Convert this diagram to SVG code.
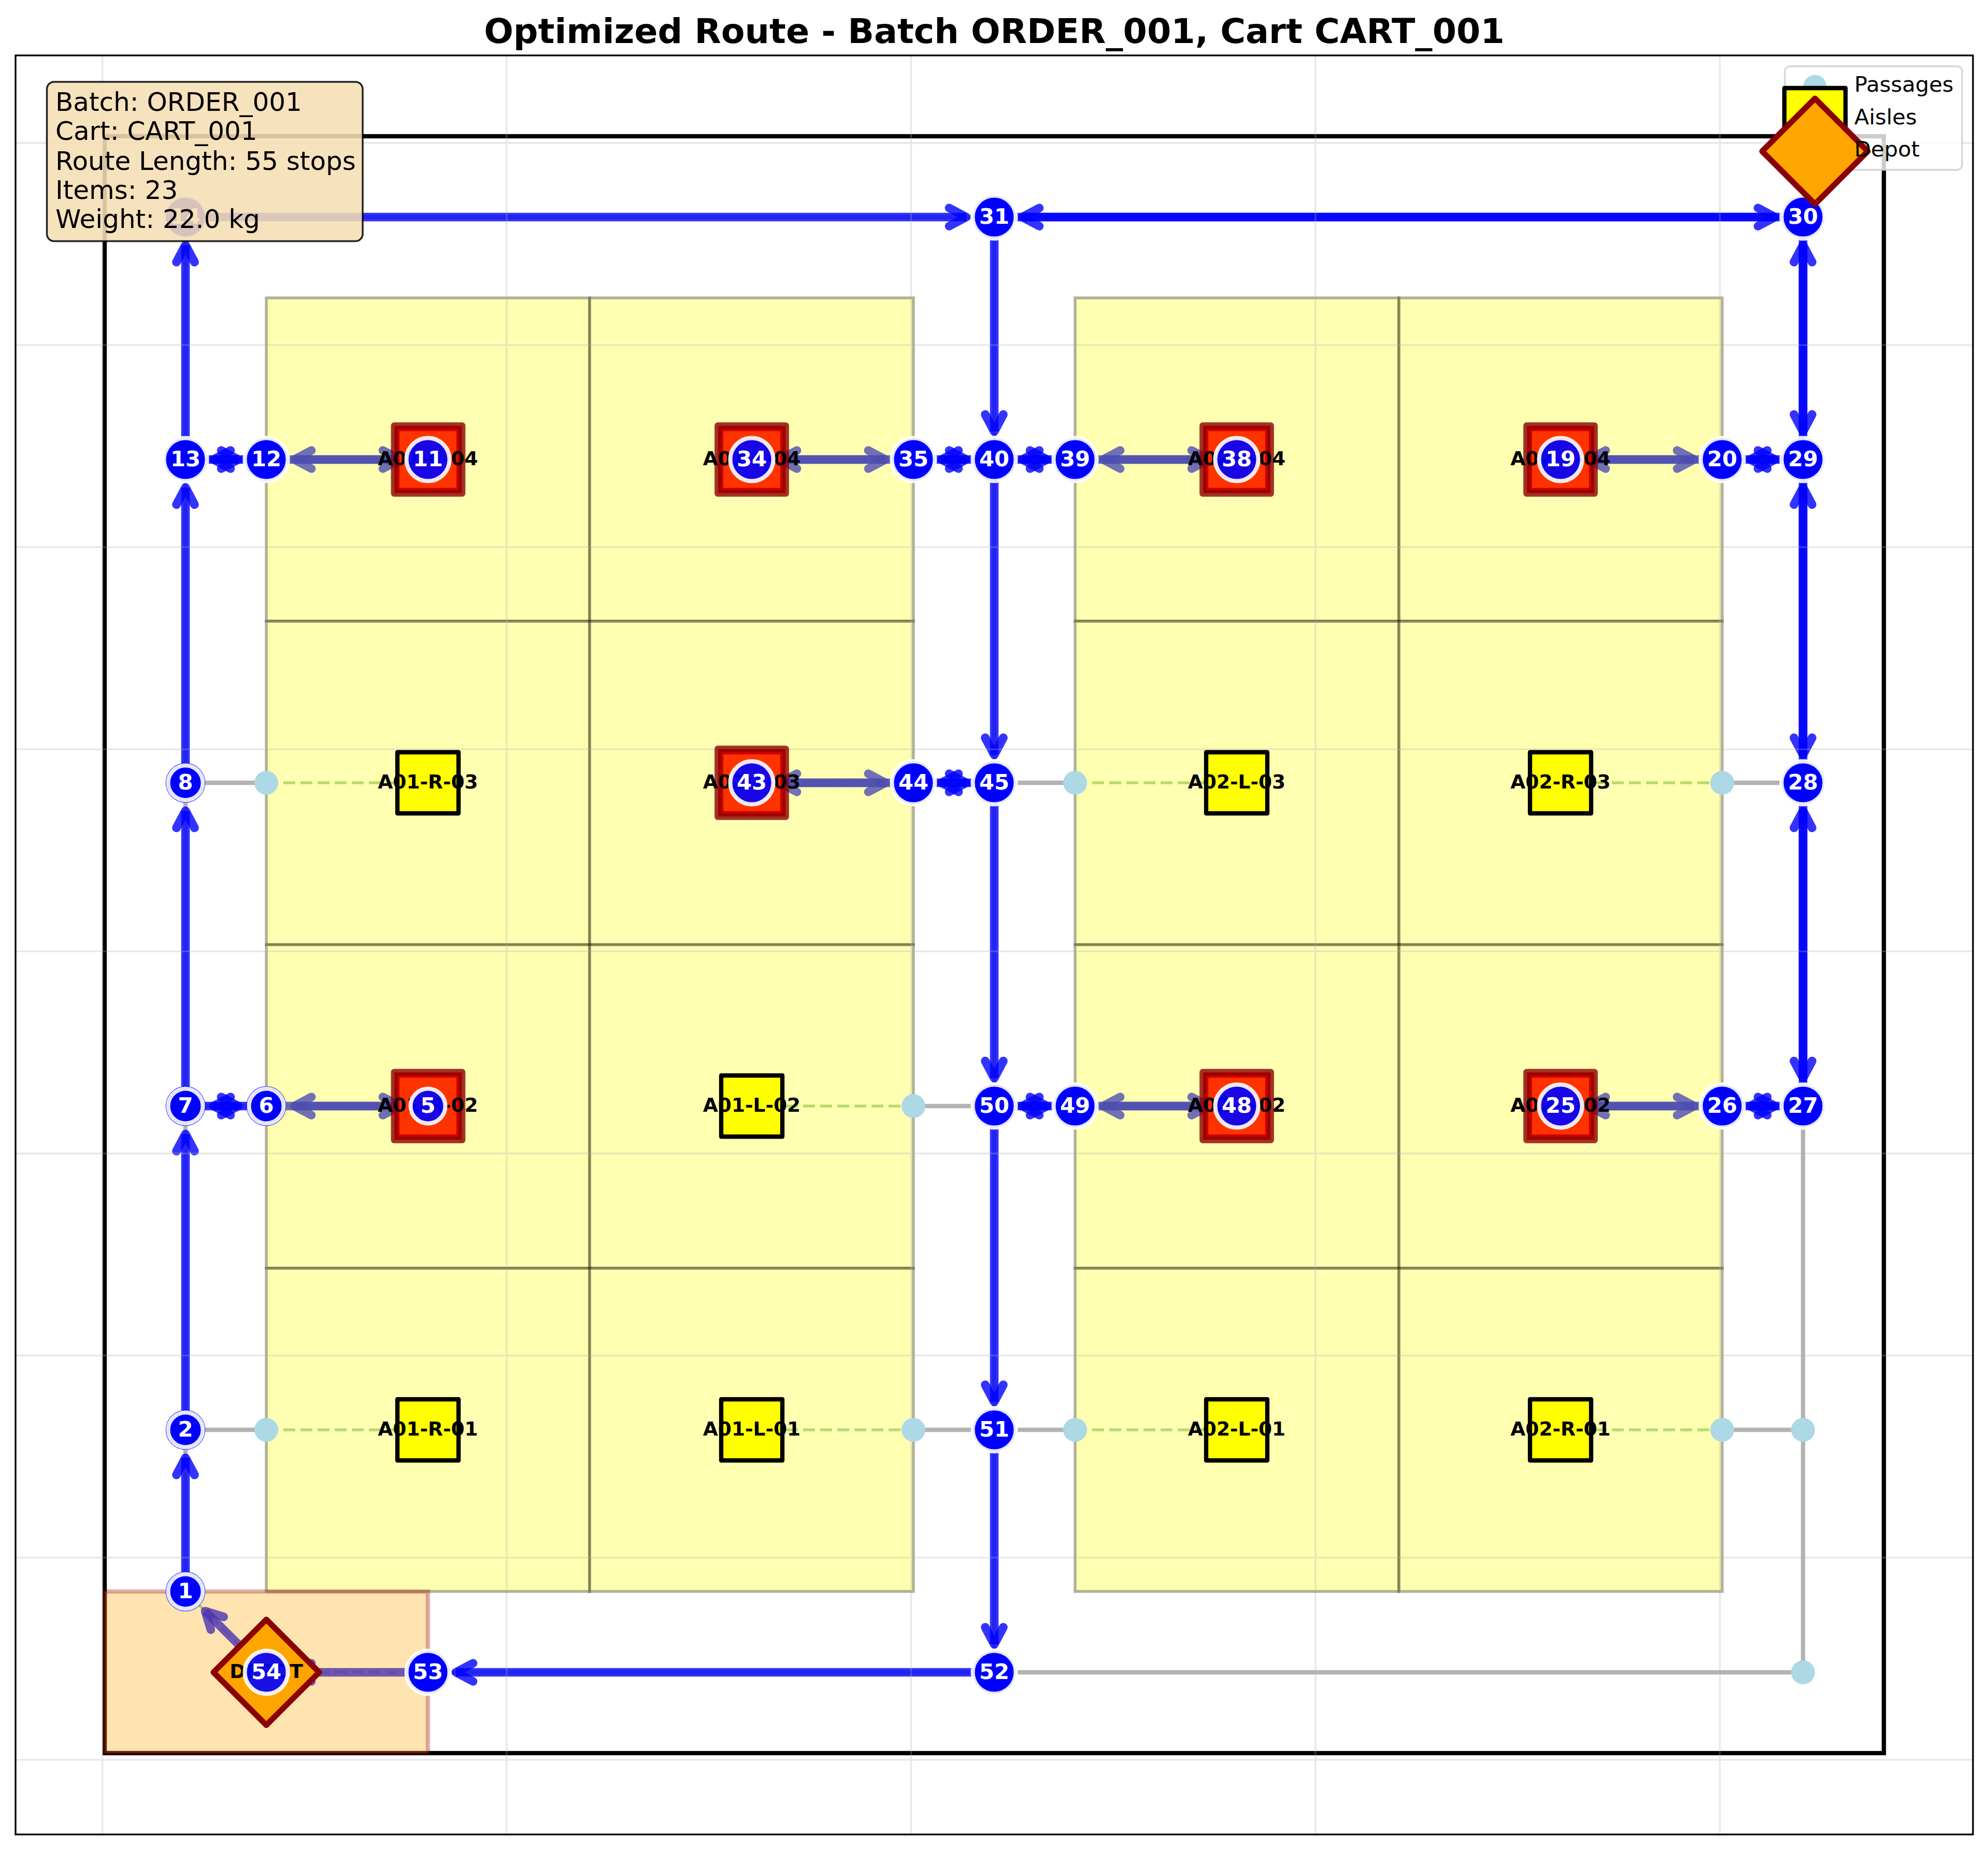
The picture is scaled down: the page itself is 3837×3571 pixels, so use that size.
<svg xmlns="http://www.w3.org/2000/svg" width="3837" height="3571" viewBox="0 0 3837 3571">
<style>
text{font-family:"DejaVu Sans","Liberation Sans",sans-serif}
.gray{stroke:#808080;stroke-opacity:.6;stroke-width:8.3;fill:none}
.dash{stroke:#008000;stroke-opacity:.4;stroke-width:5.5;stroke-dasharray:23 10;fill:none}
.arrow{stroke:#0000ff;stroke-opacity:.8;stroke-width:16.6;fill:none;marker-end:url(#head)}
.cell{fill:#ffff00;fill-opacity:.3;stroke:#000;stroke-opacity:.3;stroke-width:5.5}
.grid{stroke:#b0b0b0;stroke-opacity:.3;stroke-width:3.3;fill:none}
.dot{fill:#add8e6}
.sq{fill:#ffff00;stroke:#000;stroke-width:8.3;stroke-linejoin:round}
.hit{fill:#ff0000;fill-opacity:.8;stroke:#8b0000;stroke-opacity:.8;stroke-width:12.7;stroke-linejoin:round}
.lab{font-size:37.5px;font-weight:700;fill:#000;text-anchor:middle}
.und{fill:#0000ff}
.nd{fill:#0000ff;stroke:#fff;stroke-opacity:.9;stroke-width:8}
.ndi{fill:#0000ff;fill-opacity:.9;stroke:#fff;stroke-opacity:.9;stroke-width:8}
.num{font-size:41.67px;font-weight:700;fill:#fff;text-anchor:middle}
.dia{fill:#ffa500;stroke:#8b0000;stroke-width:11;stroke-linejoin:round}
.info{font-size:50px;fill:#000}
.leg{font-size:41.67px;fill:#000}
</style>
<defs>
<marker id="head" markerUnits="userSpaceOnUse" markerWidth="1" markerHeight="1" refX="0" refY="0" orient="auto" overflow="visible">
<path d="M-33,-17.5L0,0L-33,17.5" fill="none" stroke="#0000ff" stroke-opacity=".8" stroke-width="16.6" stroke-linecap="round" stroke-linejoin="round"/>
</marker>
</defs>
<rect width="3837" height="3571" fill="#fff"/>
<g id="connectors">
<g id="passage-edges">
<path class="gray" d="M358,419V3072M1919,419V3228M3480,419V3228M358,419H3480M826,3228H3480M358,887H514M358,1511H514M358,2135H514M358,2760H514M1763,887H2075M1763,1511H2075M1763,2135H2075M1763,2760H2075M3324,887H3480M3324,1511H3480M3324,2135H3480M3324,2760H3480"/>
</g>
<g id="aisle-links">
<path class="dash" d="M514,887H826M514,1511H826M514,2135H826M514,2760H826M1451,887H1763M1451,1511H1763M1451,2135H1763M1451,2760H1763M2075,887H2387M2075,1511H2387M2075,2135H2387M2075,2760H2387M3012,887H3324M3012,1511H3324M3012,2135H3324M3012,2760H3324M514,3228L358,3072M514,3228H826"/>
</g>
<g id="route">
<path class="arrow" d="M493,3207L396,3110"/>
<path class="arrow" d="M358,3042V2814"/>
<path class="arrow" d="M358,2730V2189"/>
<path class="arrow" d="M388,2135H460"/>
<path class="arrow" d="M544,2135H772"/>
<path class="arrow" d="M796,2135H568"/>
<path class="arrow" d="M484,2135H412"/>
<path class="arrow" d="M358,2105V1565"/>
<path class="arrow" d="M358,1481V941"/>
<path class="arrow" d="M388,887H460"/>
<path class="arrow" d="M544,887H772"/>
<path class="arrow" d="M796,887H568"/>
<path class="arrow" d="M484,887H412"/>
<path class="arrow" d="M358,857V473"/>
<path class="arrow" d="M388,419H1865"/>
<path class="arrow" d="M1949,419H3426"/>
<path class="arrow" d="M3480,449V833"/>
<path class="arrow" d="M3450,887H3378"/>
<path class="arrow" d="M3294,887H3066"/>
<path class="arrow" d="M3042,887H3270"/>
<path class="arrow" d="M3354,887H3426"/>
<path class="arrow" d="M3480,917V1457"/>
<path class="arrow" d="M3480,1541V2081"/>
<path class="arrow" d="M3450,2135H3378"/>
<path class="arrow" d="M3294,2135H3066"/>
<path class="arrow" d="M3042,2135H3270"/>
<path class="arrow" d="M3354,2135H3426"/>
<path class="arrow" d="M3480,2105V1565"/>
<path class="arrow" d="M3480,1481V941"/>
<path class="arrow" d="M3480,857V473"/>
<path class="arrow" d="M3450,419H1973"/>
<path class="arrow" d="M1919,449V833"/>
<path class="arrow" d="M1889,887H1817"/>
<path class="arrow" d="M1733,887H1505"/>
<path class="arrow" d="M1481,887H1709"/>
<path class="arrow" d="M1793,887H1865"/>
<path class="arrow" d="M1949,887H2021"/>
<path class="arrow" d="M2105,887H2333"/>
<path class="arrow" d="M2357,887H2129"/>
<path class="arrow" d="M2045,887H1973"/>
<path class="arrow" d="M1919,917V1457"/>
<path class="arrow" d="M1889,1511H1817"/>
<path class="arrow" d="M1733,1511H1505"/>
<path class="arrow" d="M1481,1511H1709"/>
<path class="arrow" d="M1793,1511H1865"/>
<path class="arrow" d="M1919,1541V2081"/>
<path class="arrow" d="M1949,2135H2021"/>
<path class="arrow" d="M2105,2135H2333"/>
<path class="arrow" d="M2357,2135H2129"/>
<path class="arrow" d="M2045,2135H1973"/>
<path class="arrow" d="M1919,2165V2706"/>
<path class="arrow" d="M1919,2790V3174"/>
<path class="arrow" d="M1889,3228H880"/>
<path class="arrow" d="M796,3228H568"/>
</g>
</g>
<g id="warehouse">
<rect x="202" y="263" width="3434" height="3121" fill="none" stroke="#000" stroke-width="8.3"/>
</g>
<g id="aisle-zones">
<rect class="cell" x="514" y="575" width="624" height="624"/><rect class="cell" x="1138" y="575" width="625" height="624"/><rect class="cell" x="2075" y="575" width="625" height="624"/><rect class="cell" x="2700" y="575" width="624" height="624"/>
<rect class="cell" x="514" y="1199" width="624" height="624.5"/><rect class="cell" x="1138" y="1199" width="625" height="624.5"/><rect class="cell" x="2075" y="1199" width="625" height="624.5"/><rect class="cell" x="2700" y="1199" width="624" height="624.5"/>
<rect class="cell" x="514" y="1823.5" width="624" height="624.5"/><rect class="cell" x="1138" y="1823.5" width="625" height="624.5"/><rect class="cell" x="2075" y="1823.5" width="625" height="624.5"/><rect class="cell" x="2700" y="1823.5" width="624" height="624.5"/>
<rect class="cell" x="514" y="2448" width="624" height="624"/><rect class="cell" x="1138" y="2448" width="625" height="624"/><rect class="cell" x="2075" y="2448" width="625" height="624"/><rect class="cell" x="2700" y="2448" width="624" height="624"/>
</g>
<g id="depot-zone">
<rect x="202" y="3072" width="624" height="312" fill="#ffa500" fill-opacity=".3" stroke="#8b0000" stroke-opacity=".3" stroke-width="8.3"/>
</g>
<g id="gridlines">
<path class="grid" d="M197.7,107V3541M978,107V3541M1758.6,107V3541M2539,107V3541M3319.5,107V3541M30,276H3808M30,666.1H3808M30,1056.2H3808M30,1446.3H3808M30,1836.4H3808M30,2226.5H3808M30,2616.6H3808M30,3006.7H3808M30,3396.8H3808"/>
</g>
<g id="passages">
<circle class="dot" cx="514" cy="1511" r="23"/><circle class="dot" cx="2075" cy="1511" r="23"/><circle class="dot" cx="3324" cy="1511" r="23"/><circle class="dot" cx="1763" cy="2135" r="23"/><circle class="dot" cx="514" cy="2760" r="23"/><circle class="dot" cx="1763" cy="2760" r="23"/><circle class="dot" cx="2075" cy="2760" r="23"/><circle class="dot" cx="3324" cy="2760" r="23"/><circle class="dot" cx="3480" cy="2760" r="23"/><circle class="dot" cx="3480" cy="3228" r="23"/>
</g>
<g id="aisle-A01-R-04"><rect class="sq" x="767" y="828" width="118" height="118"/><rect class="hit" x="760.9" y="821.5" width="131" height="131"/><text class="lab" x="826" y="897.5">A01-R-04</text></g>
<g id="aisle-A01-L-04"><rect class="sq" x="1392" y="828" width="118" height="118"/><rect class="hit" x="1385.5" y="821.5" width="131" height="131"/><text class="lab" x="1451" y="897.5">A01-L-04</text></g>
<g id="aisle-A02-L-04"><rect class="sq" x="2328" y="828" width="118" height="118"/><rect class="hit" x="2321.5" y="821.5" width="131" height="131"/><text class="lab" x="2387" y="897.5">A02-L-04</text></g>
<g id="aisle-A02-R-04"><rect class="sq" x="2953" y="828" width="118" height="118"/><rect class="hit" x="2946.5" y="821.5" width="131" height="131"/><text class="lab" x="3012" y="897.5">A02-R-04</text></g>
<g id="aisle-A01-R-03"><rect class="sq" x="767" y="1452" width="118" height="118"/><text class="lab" x="826" y="1521.5">A01-R-03</text></g>
<g id="aisle-A01-L-03"><rect class="sq" x="1392" y="1452" width="118" height="118"/><rect class="hit" x="1385.5" y="1445.5" width="131" height="131"/><text class="lab" x="1451" y="1521.5">A01-L-03</text></g>
<g id="aisle-A02-L-03"><rect class="sq" x="2328" y="1452" width="118" height="118"/><text class="lab" x="2387" y="1521.5">A02-L-03</text></g>
<g id="aisle-A02-R-03"><rect class="sq" x="2953" y="1452" width="118" height="118"/><text class="lab" x="3012" y="1521.5">A02-R-03</text></g>
<g id="aisle-A01-R-02"><rect class="sq" x="767" y="2076" width="118" height="118"/><rect class="hit" x="760.9" y="2069.5" width="131" height="131"/><text class="lab" x="826" y="2145.5">A01-R-02</text></g>
<g id="aisle-A01-L-02"><rect class="sq" x="1392" y="2076" width="118" height="118"/><text class="lab" x="1451" y="2145.5">A01-L-02</text></g>
<g id="aisle-A02-L-02"><rect class="sq" x="2328" y="2076" width="118" height="118"/><rect class="hit" x="2321.5" y="2069.5" width="131" height="131"/><text class="lab" x="2387" y="2145.5">A02-L-02</text></g>
<g id="aisle-A02-R-02"><rect class="sq" x="2953" y="2076" width="118" height="118"/><rect class="hit" x="2946.5" y="2069.5" width="131" height="131"/><text class="lab" x="3012" y="2145.5">A02-R-02</text></g>
<g id="aisle-A01-R-01"><rect class="sq" x="767" y="2701" width="118" height="118"/><text class="lab" x="826" y="2770.5">A01-R-01</text></g>
<g id="aisle-A01-L-01"><rect class="sq" x="1392" y="2701" width="118" height="118"/><text class="lab" x="1451" y="2770.5">A01-L-01</text></g>
<g id="aisle-A02-L-01"><rect class="sq" x="2328" y="2701" width="118" height="118"/><text class="lab" x="2387" y="2770.5">A02-L-01</text></g>
<g id="aisle-A02-R-01"><rect class="sq" x="2953" y="2701" width="118" height="118"/><text class="lab" x="3012" y="2770.5">A02-R-01</text></g>
<g id="depot"><path class="dia" d="M514,3126L616,3228L514,3330L412,3228Z"/><text class="lab" x="514" y="3238.5">DEPOT</text></g>
<g id="stop-1"><circle class="und" cx="358" cy="3072" r="38.3"/><circle class="nd" cx="358" cy="3072" r="33.5"/><text class="num" x="358" y="3085">1</text></g>
<g id="stop-2"><circle class="und" cx="358" cy="2760" r="38.3"/><circle class="nd" cx="358" cy="2760" r="33.5"/><text class="num" x="358" y="2773">2</text></g>
<g id="stop-5"><circle class="ndi" cx="826" cy="2135" r="33.5"/><text class="num" x="826" y="2148">5</text></g>
<g id="stop-6"><circle class="und" cx="514" cy="2135" r="38.3"/><circle class="nd" cx="514" cy="2135" r="33.5"/><text class="num" x="514" y="2148">6</text></g>
<g id="stop-7"><circle class="und" cx="358" cy="2135" r="38.3"/><circle class="nd" cx="358" cy="2135" r="33.5"/><text class="num" x="358" y="2148">7</text></g>
<g id="stop-8"><circle class="und" cx="358" cy="1511" r="38.3"/><circle class="nd" cx="358" cy="1511" r="33.5"/><text class="num" x="358" y="1524">8</text></g>
<g id="stop-11"><circle class="ndi" cx="826" cy="887" r="41.5"/><text class="num" x="826" y="900">11</text></g>
<g id="stop-12"><circle class="nd" cx="514" cy="887" r="41.5"/><text class="num" x="514" y="900">12</text></g>
<g id="stop-13"><circle class="nd" cx="358" cy="887" r="41.5"/><text class="num" x="358" y="900">13</text></g>
<g id="stop-14"><circle class="nd" cx="358" cy="419" r="41.5"/><text class="num" x="358" y="432">14</text></g>
<g id="stop-19"><circle class="ndi" cx="3012" cy="887" r="41.5"/><text class="num" x="3012" y="900">19</text></g>
<g id="stop-20"><circle class="nd" cx="3324" cy="887" r="41.5"/><text class="num" x="3324" y="900">20</text></g>
<g id="stop-25"><circle class="ndi" cx="3012" cy="2135" r="41.5"/><text class="num" x="3012" y="2148">25</text></g>
<g id="stop-26"><circle class="nd" cx="3324" cy="2135" r="41.5"/><text class="num" x="3324" y="2148">26</text></g>
<g id="stop-27"><circle class="nd" cx="3480" cy="2135" r="41.5"/><text class="num" x="3480" y="2148">27</text></g>
<g id="stop-28"><circle class="nd" cx="3480" cy="1511" r="41.5"/><text class="num" x="3480" y="1524">28</text></g>
<g id="stop-29"><circle class="nd" cx="3480" cy="887" r="41.5"/><text class="num" x="3480" y="900">29</text></g>
<g id="stop-30"><circle class="nd" cx="3480" cy="419" r="41.5"/><text class="num" x="3480" y="432">30</text></g>
<g id="stop-31"><circle class="nd" cx="1919" cy="419" r="41.5"/><text class="num" x="1919" y="432">31</text></g>
<g id="stop-34"><circle class="ndi" cx="1451" cy="887" r="41.5"/><text class="num" x="1451" y="900">34</text></g>
<g id="stop-35"><circle class="nd" cx="1763" cy="887" r="41.5"/><text class="num" x="1763" y="900">35</text></g>
<g id="stop-38"><circle class="ndi" cx="2387" cy="887" r="41.5"/><text class="num" x="2387" y="900">38</text></g>
<g id="stop-39"><circle class="nd" cx="2075" cy="887" r="41.5"/><text class="num" x="2075" y="900">39</text></g>
<g id="stop-40"><circle class="nd" cx="1919" cy="887" r="41.5"/><text class="num" x="1919" y="900">40</text></g>
<g id="stop-43"><circle class="ndi" cx="1451" cy="1511" r="41.5"/><text class="num" x="1451" y="1524">43</text></g>
<g id="stop-44"><circle class="nd" cx="1763" cy="1511" r="41.5"/><text class="num" x="1763" y="1524">44</text></g>
<g id="stop-45"><circle class="nd" cx="1919" cy="1511" r="41.5"/><text class="num" x="1919" y="1524">45</text></g>
<g id="stop-48"><circle class="ndi" cx="2387" cy="2135" r="41.5"/><text class="num" x="2387" y="2148">48</text></g>
<g id="stop-49"><circle class="nd" cx="2075" cy="2135" r="41.5"/><text class="num" x="2075" y="2148">49</text></g>
<g id="stop-50"><circle class="nd" cx="1919" cy="2135" r="41.5"/><text class="num" x="1919" y="2148">50</text></g>
<g id="stop-51"><circle class="nd" cx="1919" cy="2760" r="41.5"/><text class="num" x="1919" y="2773">51</text></g>
<g id="stop-52"><circle class="nd" cx="1919" cy="3228" r="41.5"/><text class="num" x="1919" y="3241">52</text></g>
<g id="stop-53"><circle class="nd" cx="826" cy="3228" r="41.5"/><text class="num" x="826" y="3241">53</text></g>
<g id="stop-54"><circle class="ndi" cx="514" cy="3228" r="41.5"/><text class="num" x="514" y="3241">54</text></g>
<g id="info-box">
<rect x="90.5" y="158" width="609.5" height="307.5" rx="14" fill="#f5deb3" fill-opacity=".88" stroke="#000" stroke-opacity=".85" stroke-width="3.5"/>
<text class="info" x="107" y="213.5">Batch: ORDER_001</text>
<text class="info" x="107" y="270">Cart: CART_001</text>
<text class="info" x="107" y="328">Route Length: 55 stops</text>
<text class="info" x="107" y="384">Items: 23</text>
<text class="info" x="107" y="440">Weight: 22.0 kg</text>
</g>
<g id="legend">
<rect x="3445" y="128" width="342" height="200" rx="10" fill="#fff" fill-opacity=".8" stroke="#ccc" stroke-opacity=".8" stroke-width="3.3"/>
<circle class="dot" cx="3503" cy="167" r="22.5"/>
<rect class="sq" x="3444" y="170" width="118" height="118"/>
<path class="dia" d="M3503,190L3605,292L3503,394L3401,292Z"/>
<text class="leg" x="3579" y="177">Passages</text>
<text class="leg" x="3579" y="240">Aisles</text>
<text class="leg" x="3579" y="302">Depot</text>
</g>
<rect id="axes-frame" x="30" y="107" width="3778" height="3434" fill="none" stroke="#000" stroke-width="3.3"/>
<text id="title" x="1919" y="83" font-size="66.67" font-weight="700" text-anchor="middle" fill="#000">Optimized Route - Batch ORDER_001, Cart CART_001</text>
</svg>
